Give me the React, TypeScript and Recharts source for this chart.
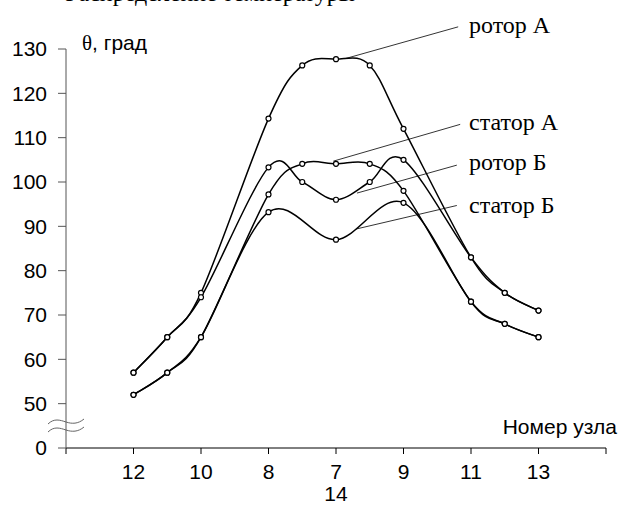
import React from "react";
import { LineChart, Line, XAxis, YAxis, ReferenceLine } from "recharts";

// node positions on the axis (half-steps are unlabeled nodes)
const nodePos = [1, 1.5, 2, 3, 3.5, 4, 4.5, 5, 6, 6.5, 7];
const rotorA = [57, 65, 75, 114.3, 126.3, 127.7, 126.3, 112, 83, 75, 71];
const rotorB = [57, 65, 74, 103.3, 100, 96, 100, 105, 83, 75, 71];
const statorA = [52, 57, 65, 97.2, 104.1, 104.1, 104.1, 98, 73, 68, 65];
const statorB = [52, 57, 65, 93.2, null, 87, null, 95.3, 73, 68, 65];

const xTicks = [0, 1, 2, 3, 4, 5, 6, 7, 8];
const xTickLabels = ["", "12", "10", "8", "7", "9", "11", "13", ""];
const xTickSecond: Record<number, string> = { 4: "14" };

// 40 stands for the broken-axis zero
const yTicks = [40, 50, 60, 70, 80, 90, 100, 110, 120, 130];
const yTickLabels = ["0", "50", "60", "70", "80", "90", "100", "110", "120", "130"];

// leader lines: [from x, from y, to x, to y] in data units, plus label
const leaders = [
  { name: "ротор А", seg: [4.13, 127.8, 5.81, 135.0] },
  { name: "статор А", seg: [3.96, 104.7, 5.84, 113.0] },
  { name: "ротор Б", seg: [4.31, 97.5, 5.79, 103.8] },
  { name: "статор Б", seg: [4.3, 89.4, 5.79, 94.7] },
];
const labelBaselines = [33, 130, 170, 213];

const data = nodePos.map((x, i) => ({
  x,
  rotorA: rotorA[i],
  rotorB: rotorB[i],
  statorA: statorA[i],
  statorB: statorB[i],
}));

// Excel-like smoothing (Catmull-Rom through the points)
const smoothCurve = (context: any) => {
  let pts: number[][] = [];
  return {
    areaStart() {},
    areaEnd() {},
    lineStart() {
      pts = [];
    },
    point(x: number, y: number) {
      pts.push([+x, +y]);
    },
    lineEnd() {
      if (!pts.length) return;
      context.moveTo(pts[0][0], pts[0][1]);
      for (let i = 0; i < pts.length - 1; i++) {
        const p0 = pts[i - 1] || pts[i];
        const p1 = pts[i];
        const p2 = pts[i + 1];
        const p3 = pts[i + 2] || pts[i + 1];
        context.bezierCurveTo(
          p1[0] + (p2[0] - p0[0]) / 6,
          p1[1] + (p2[1] - p0[1]) / 6,
          p2[0] - (p3[0] - p1[0]) / 6,
          p2[1] - (p3[1] - p1[1]) / 6,
          p2[0],
          p2[1]
        );
      }
    },
  };
};

const sans = "'Liberation Sans', Arial, sans-serif";
const serif = "'Liberation Serif', 'Times New Roman', serif";

const XTick = (props: any) => {
  const { x, y, payload } = props;
  const v = payload.value;
  return (
    <g>
      <text x={x} y={y} dy="0.71em" textAnchor="middle" fontSize={21} fontFamily={sans} fill="#000">
        {xTickLabels[v]}
      </text>
      {xTickSecond[v] && (
        <text x={x} y={y + 22} dy="0.71em" textAnchor="middle" fontSize={21} fontFamily={sans} fill="#000">
          {xTickSecond[v]}
        </text>
      )}
    </g>
  );
};

const series = [
  { key: "rotorA" },
  { key: "rotorB" },
  { key: "statorA" },
  { key: "statorB" },
];

export default function App() {
  return (
    <div style={{ position: "absolute", left: 0, top: 0, width: 619, height: 507, background: "#fff" }}>
      <LineChart width={619} height={507} data={data} margin={{ top: 49, right: 13, bottom: 0, left: 0 }}>
        <XAxis
          type="number"
          dataKey="x"
          domain={[0, 8]}
          ticks={xTicks}
          interval={0}
          height={59}
          tickSize={6}
          tickMargin={10}
          stroke="#000"
          tick={<XTick />}
        />
        <YAxis
          type="number"
          domain={[40, 130]}
          ticks={yTicks}
          interval={0}
          width={66}
          tickSize={8}
          tickMargin={11}
          stroke="#555"
          tick={{ fill: "#000", fontSize: 21, fontFamily: sans }}
          tickFormatter={(v: number) => yTickLabels[yTicks.indexOf(v)]}
        />
        {leaders.map((l) => (
          <ReferenceLine
            key={l.name}
            segment={[
              { x: l.seg[0], y: l.seg[1] },
              { x: l.seg[2], y: l.seg[3] },
            ]}
            ifOverflow="visible"
            stroke="#000"
            strokeWidth={0.8}
          />
        ))}
        {series.map((s) => (
          <Line
            key={s.key}
            dataKey={s.key}
            type={smoothCurve as any}
            stroke="#000"
            strokeWidth={1.5}
            connectNulls
            isAnimationActive={false}
            dot={{ r: 2.5, fill: "#fff", stroke: "#000", strokeWidth: 1.2 }}
            activeDot={false}
          />
        ))}
      </LineChart>
      <svg width={619} height={507} style={{ position: "absolute", left: 0, top: 0, pointerEvents: "none" }}>
        <text x={355} y={1} textAnchor="end" fontSize={24} fontFamily={serif} fill="#000">
          Распределение температуры
        </text>
        <text x={82} y={50} fontSize={21} fontFamily={sans} fill="#000">
          <tspan fontFamily={serif}>θ</tspan>, град
        </text>
        <text x={617} y={434} textAnchor="end" fontSize={21} fontFamily={sans} fill="#000">
          Номер узла
        </text>
        {leaders.map((l, i) => (
          <text key={l.name} x={469} y={labelBaselines[i]} fontSize={24} fontFamily={serif} fill="#000">
            {l.name}
          </text>
        ))}
        <path d="M48,424 C54,418 60,420 66,422 C72,424 78,424 84,419" fill="none" stroke="#666" strokeWidth={1} />
        <path d="M48,432 C54,426 60,428 66,430 C72,432 78,432 84,427" fill="none" stroke="#666" strokeWidth={1} />
      </svg>
    </div>
  );
}
